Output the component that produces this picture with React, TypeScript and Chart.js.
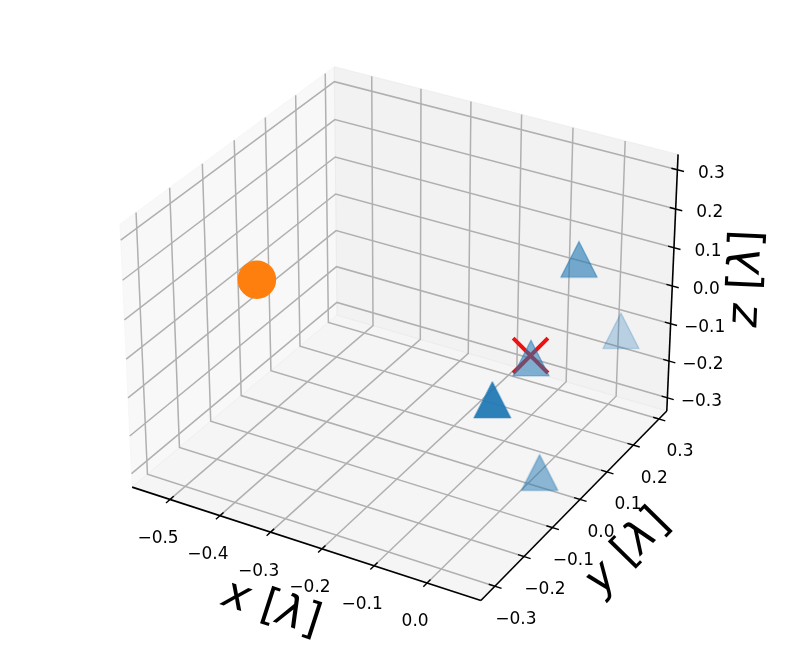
import React, { useEffect, useRef } from "react";
import { Chart, registerables } from "chart.js";

Chart.register(...registerables);

const CANVAS_W = 793;
const CANVAS_H = 661;

// ---- axis box limits (data units, λ) ----
const X_LIM = [-0.577, 0.1];
const Y_LIM = [-0.347, 0.331];
const Z_LIM = [-0.336, 0.339];

// ---- ticks ----
const X_TICKS = [-0.5, -0.4, -0.3, -0.2, -0.1, 0.0];
const X_TICK_LABELS = ["−0.5", "−0.4", "−0.3", "−0.2", "−0.1", "0.0"];
const Y_TICKS = [-0.3, -0.2, -0.1, 0.0, 0.1, 0.2, 0.3];
const Y_TICK_LABELS = ["−0.3", "−0.2", "−0.1", "0.0", "0.1", "0.2", "0.3"];
const Z_TICKS = [-0.3, -0.2, -0.1, 0.0, 0.1, 0.2, 0.3];
const Z_TICK_LABELS = ["−0.3", "−0.2", "−0.1", "0.0", "0.1", "0.2", "0.3"];

// ---- data ----
// blue triangles
const TRI_X = [-0.006, 0.016, -0.045, 0.001, 0.006];
const TRI_Y = [0.181, 0.308, 0.088, -0.134, 0.031];
const TRI_Z = [0.126, -0.136, -0.084, -0.021, -0.327];
// orange circle
const SRC_X = [-0.538];
const SRC_Y = [0.0];
const SRC_Z = [-0.008];
// red cross
const TGT_X = [0.0];
const TGT_Y = [0.0];
const TGT_Z = [0.0];

// ---- camera (matplotlib default view) ----
const ELEV = 30;
const AZIM = -60;
const CAM_DIST = 10;
// 2D view window of the projected coordinates
const VIEW_X = [-0.11558, 0.11118];
const VIEW_Y = [-0.09714, 0.09188];

const BOX = (() => {
  const f = 1.8294640721620434 / Math.hypot(4, 4, 3);
  return [4 * f, 4 * f, 3 * f];
})();
const el = (ELEV * Math.PI) / 180;
const az = (AZIM * Math.PI) / 180;
const WV = [Math.cos(el) * Math.cos(az), Math.cos(el) * Math.sin(az), Math.sin(el)];
const UV = (() => {
  const u = [-WV[1], WV[0], 0];
  const n = Math.hypot(u[0], u[1], u[2]);
  return [u[0] / n, u[1] / n, u[2] / n];
})();
const VV = [
  WV[1] * UV[2] - WV[2] * UV[1],
  WV[2] * UV[0] - WV[0] * UV[2],
  WV[0] * UV[1] - WV[1] * UV[0],
];

function project(x: number, y: number, z: number) {
  const q = [
    ((x - X_LIM[0]) / (X_LIM[1] - X_LIM[0])) * BOX[0] - BOX[0] / 2,
    ((y - Y_LIM[0]) / (Y_LIM[1] - Y_LIM[0])) * BOX[1] - BOX[1] / 2,
    ((z - Z_LIM[0]) / (Z_LIM[1] - Z_LIM[0])) * BOX[2] - BOX[2] / 2,
  ];
  const U = UV[0] * q[0] + UV[1] * q[1] + UV[2] * q[2];
  const V = VV[0] * q[0] + VV[1] * q[1] + VV[2] * q[2];
  const W = WV[0] * q[0] + WV[1] * q[1] + WV[2] * q[2];
  const d = CAM_DIST - W;
  return { x: U / d, y: V / d, vz: -CAM_DIST / d };
}

const FONT = '"DejaVu Sans", "Liberation Sans", sans-serif';

type Piece = { t: string; it: boolean };
const X_LABEL: Piece[] = [
  { t: "x", it: true },
  { t: " [", it: false },
  { t: "λ", it: true },
  { t: "]", it: false },
];
const Y_LABEL: Piece[] = [
  { t: "y", it: true },
  { t: " [", it: false },
  { t: "λ", it: true },
  { t: "]", it: false },
];
const Z_LABEL: Piece[] = [
  { t: "z", it: true },
  { t: " [", it: false },
  { t: "λ", it: true },
  { t: "]", it: false },
];

function triangleImage(alpha: number) {
  const c = document.createElement("canvas");
  c.width = 44;
  c.height = 44;
  const g = c.getContext("2d")!;
  const s = 36;
  const h = 35.5;
  const cx = 22;
  const cy = 22;
  g.beginPath();
  g.moveTo(cx, cy - h / 2);
  g.lineTo(cx - s / 2, cy + h / 2);
  g.lineTo(cx + s / 2, cy + h / 2);
  g.closePath();
  const col = `rgba(31,119,180,${(alpha * 0.93).toFixed(3)})`;
  g.fillStyle = col;
  g.fill();
  g.lineWidth = 1.2;
  g.strokeStyle = col;
  g.stroke();
  return c;
}

const axes3d = {
  id: "axes3d",
  beforeDatasetsDraw(chart: any) {
    const ctx: CanvasRenderingContext2D = chart.ctx;
    const xs = chart.scales.x;
    const ys = chart.scales.y;
    const P = (x: number, y: number, z: number): [number, number] => {
      const p = project(x, y, z);
      return [xs.getPixelForValue(p.x), ys.getPixelForValue(p.y)];
    };
    const [x0, x1] = X_LIM;
    const [y0, y1] = Y_LIM;
    const [z0, z1] = Z_LIM;
    ctx.save();

    const poly = (pts: [number, number][], color: string) => {
      ctx.beginPath();
      ctx.moveTo(pts[0][0], pts[0][1]);
      for (let i = 1; i < pts.length; i++) ctx.lineTo(pts[i][0], pts[i][1]);
      ctx.closePath();
      ctx.fillStyle = color;
      ctx.fill();
      ctx.strokeStyle = color;
      ctx.lineWidth = 1;
      ctx.stroke();
    };
    const polyline = (pts: [number, number][], color: string, lw: number) => {
      ctx.beginPath();
      ctx.moveTo(pts[0][0], pts[0][1]);
      for (let i = 1; i < pts.length; i++) ctx.lineTo(pts[i][0], pts[i][1]);
      ctx.strokeStyle = color;
      ctx.lineWidth = lw;
      ctx.lineJoin = "miter";
      ctx.stroke();
    };

    // panes
    poly([P(x0, y0, z0), P(x0, y1, z0), P(x0, y1, z1), P(x0, y0, z1)], "rgba(242,242,242,0.5)");
    poly([P(x0, y1, z0), P(x1, y1, z0), P(x1, y1, z1), P(x0, y1, z1)], "rgba(230,230,230,0.5)");
    poly([P(x0, y0, z0), P(x1, y0, z0), P(x1, y1, z0), P(x0, y1, z0)], "rgba(236,236,236,0.5)");

    // grid
    const GRID = "#b0b0b0";
    const GW = 1.5;
    X_TICKS.forEach((t) => polyline([P(t, y0, z0), P(t, y1, z0), P(t, y1, z1)], GRID, GW));
    Y_TICKS.forEach((t) => polyline([P(x1, t, z0), P(x0, t, z0), P(x0, t, z1)], GRID, GW));
    Z_TICKS.forEach((t) => polyline([P(x0, y0, t), P(x0, y1, t), P(x1, y1, t)], GRID, GW));

    // axis lines
    const AX = "#000000";
    polyline([P(x0, y0, z0), P(x1, y0, z0)], AX, 1.6);
    polyline([P(x1, y0, z0), P(x1, y1, z0)], AX, 1.6);
    polyline([P(x1, y1, z0), P(x1, y1, z1)], AX, 1.6);

    // tick marks
    const dx = (x1 - x0) / 12;
    const dy = (y1 - y0) / 12;
    const TIN = 0.2;
    const TOUT = 0.22;
    X_TICKS.forEach((t) => polyline([P(t, y0 - TOUT * dy, z0), P(t, y0 + TIN * dy, z0)], AX, 1.4));
    Y_TICKS.forEach((t) => polyline([P(x1 + TOUT * dx, t, z0), P(x1 - TIN * dx, t, z0)], AX, 1.4));
    Z_TICKS.forEach((t) => polyline([P(x1 + TOUT * dx, y1, t), P(x1 - TIN * dx, y1, t)], AX, 1.4));

    // tick labels
    ctx.fillStyle = "#000";
    ctx.font = `17px ${FONT}`;
    ctx.textAlign = "center";
    ctx.textBaseline = "middle";
    X_TICKS.forEach((t, i) => {
      const [px, py] = P(t, y0, z0);
      ctx.fillText(X_TICK_LABELS[i], px - 12, py + 39);
    });
    Y_TICKS.forEach((t, i) => {
      const [px, py] = P(x1, t, z0);
      ctx.fillText(Y_TICK_LABELS[i], px + 21, py + 33);
    });
    Z_TICKS.forEach((t, i) => {
      const [px, py] = P(x1, y1, t);
      ctx.fillText(Z_TICK_LABELS[i], px + 34, py + 3.5);
    });

    // axis labels
    const drawLabel = (pieces: Piece[], a: [number, number], b: [number, number], off: [number, number]) => {
      let ang = Math.atan2(b[1] - a[1], b[0] - a[0]);
      if (ang > Math.PI / 2) ang -= Math.PI;
      if (ang <= -Math.PI / 2) ang += Math.PI;
      const cx = (a[0] + b[0]) / 2 + off[0];
      const cy = (a[1] + b[1]) / 2 + off[1];
      const size = 44;
      const fontOf = (p: Piece) => `${p.it ? "oblique " : ""}${size}px ${FONT}`;
      let total = 0;
      const widths = pieces.map((p) => {
        ctx.font = fontOf(p);
        const w = ctx.measureText(p.t).width;
        total += w;
        return w;
      });
      ctx.save();
      ctx.translate(cx, cy);
      ctx.rotate(ang);
      ctx.textAlign = "left";
      ctx.textBaseline = "middle";
      let xpos = -total / 2;
      pieces.forEach((p, i) => {
        ctx.font = fontOf(p);
        ctx.fillText(p.t, xpos, 0);
        xpos += widths[i];
      });
      ctx.restore();
    };
    const xm = (x0 + x1) / 2;
    const ym = (y0 + y1) / 2;
    const zm = (z0 + z1) / 2;
    const xa = P(x0, y0, z0), xb = P(x1, y0, z0);
    const xmid = P(xm, y0, z0);
    drawLabel(X_LABEL, xa, xb, [xmid[0] - (xa[0] + xb[0]) / 2 - 30.6, xmid[1] - (xa[1] + xb[1]) / 2 + 66.5]);
    const ya = P(x1, y0, z0), yb = P(x1, y1, z0);
    const ymid = P(x1, ym, z0);
    drawLabel(Y_LABEL, ya, yb, [ymid[0] - (ya[0] + yb[0]) / 2 + 50.2, ymid[1] - (ya[1] + yb[1]) / 2 + 50.5]);
    const za = P(x1, y1, z0), zb = P(x1, y1, z1);
    const zmid = P(x1, y1, zm);
    drawLabel(Z_LABEL, za, zb, [zmid[0] - (za[0] + zb[0]) / 2 + 74.7, zmid[1] - (za[1] + zb[1]) / 2 - 6.9]);

    ctx.restore();
  },
};

export default function App() {
  const ref = useRef<HTMLCanvasElement | null>(null);

  useEffect(() => {
    if (!ref.current) return;

    // triangles, depth-shaded like matplotlib (far -> transparent), farthest drawn first
    const tri = TRI_X.map((x, i) => ({ ...project(x, TRI_Y[i], TRI_Z[i]) }));
    const vzs = tri.map((p) => p.vz);
    const vmin = Math.min(...vzs);
    const vmax = Math.max(...vzs);
    const order = tri.map((_, i) => i).sort((a, b) => tri[b].vz - tri[a].vz);
    const triData = order.map((i) => ({ x: tri[i].x, y: tri[i].y }));
    const triStyles = order.map((i) => {
      const n = vmax > vmin ? (tri[i].vz - vmin) / (vmax - vmin) : 0;
      return triangleImage(1 - 0.7 * n);
    });

    const src = SRC_X.map((x, i) => {
      const p = project(x, SRC_Y[i], SRC_Z[i]);
      return { x: p.x, y: p.y };
    });
    const tgt = TGT_X.map((x, i) => {
      const p = project(x, TGT_Y[i], TGT_Z[i]);
      return { x: p.x, y: p.y };
    });

    const chart = new Chart(ref.current, {
      type: "scatter",
      data: {
        datasets: [
          {
            label: "triangles",
            data: triData,
            pointStyle: triStyles as any,
            pointRadius: 18,
            order: 0,
          },
          {
            label: "cross",
            data: tgt,
            pointStyle: "crossRot",
            pointRadius: 24.6,
            borderColor: "#ee1111",
            backgroundColor: "#ee1111",
            borderWidth: 4,
            order: 1,
          },
          {
            label: "circle",
            data: src,
            pointStyle: "circle",
            pointRadius: 18.5,
            backgroundColor: "#ff7f0e",
            borderColor: "#ff7f0e",
            borderWidth: 1.5,
            order: 2,
          },
        ],
      },
      options: {
        animation: false,
        responsive: false,
        devicePixelRatio: 1,
        events: [],
        layout: { padding: 0, autoPadding: false },
        plugins: {
          legend: { display: false },
          tooltip: { enabled: false },
        },
        scales: {
          x: { type: "linear", display: false, min: VIEW_X[0], max: VIEW_X[1] },
          y: { type: "linear", display: false, min: VIEW_Y[0], max: VIEW_Y[1] },
        },
      },
      plugins: [axes3d],
    });
    return () => chart.destroy();
  }, []);

  return (
    <div style={{ position: "absolute", left: 0, top: 0, width: CANVAS_W, height: CANVAS_H, background: "#fff" }}>
      <canvas ref={ref} width={CANVAS_W} height={CANVAS_H} style={{ display: "block" }} />
    </div>
  );
}
